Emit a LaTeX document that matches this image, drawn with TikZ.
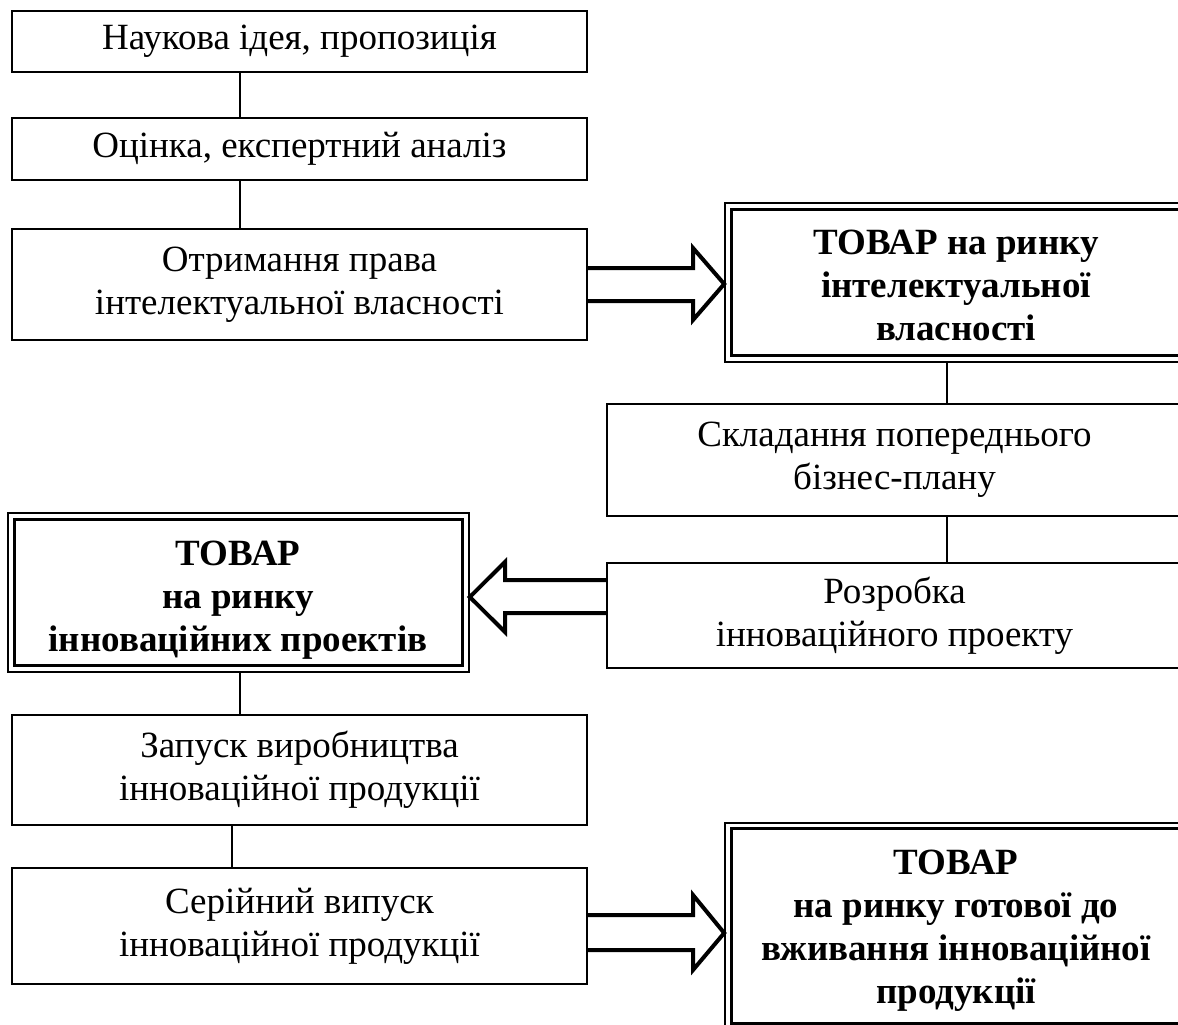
\documentclass[tikz,border=0pt]{standalone}
\usepackage{fontspec}
\setmainfont{Liberation Serif}
\usetikzlibrary{calc}
\begin{document}
\begin{tikzpicture}[x=1pt,y=-1pt,
  box/.style={draw, line width=1.5pt, align=center, inner sep=0pt,
    font=\fontsize{37}{43}\selectfont},
  dbox/.style={draw, line width=3pt, inner sep=0pt},
  btext/.style={align=center, inner sep=0pt, font=\fontsize{37}{43}\selectfont\bfseries},
  oframe/.style={draw, line width=1.6pt, inner sep=0pt},
  conn/.style={line width=1.5pt},
  bigarrow/.style={draw, line width=4pt, line join=miter}]
\useasboundingbox (0,0) rectangle (1178,1025);
\clip (0,0) rectangle (1178,1025);
\coordinate (lx) at (240,0);
\coordinate (rx) at (947,0);
\coordinate (lx2) at (232,0);
% left column
\node[box, minimum width=575pt, minimum height=61pt] (b1) at (299.5,41.5) {Наукова ідея, пропозиція};
\node[box, minimum width=575pt, minimum height=62pt] (b2) at (299.5,149) {Оцінка, експертний аналіз};
\node[box, minimum width=575pt, minimum height=111pt] (b3) at (299.5,284.5) {Отримання права\\інтелектуальної власності};
% double box 1
\node[oframe, minimum width=462pt, minimum height=159pt] (db1o) at (956,282.5) {};
\node[dbox, minimum width=450pt, minimum height=146pt] (db1) at (956,282) {};
\node[btext] (db1t) at (956,285) {ТОВАР на ринку\\інтелектуальної\\власності};
% right column
\node[box, minimum width=575pt, minimum height=112pt] (b4) at (894.5,460) {Складання попереднього\\бізнес-плану};
\node[box, minimum width=575pt, minimum height=105pt] (b5) at (894.5,615.5) {Розробка\\інноваційного проекту};
% double box 2
\node[oframe, minimum width=461pt, minimum height=159pt] (db2o) at (238.5,592.5) {};
\node[dbox, minimum width=448pt, minimum height=146pt] (db2) at (238,592) {};
\node[btext] (db2t) at (238,600) {ТОВАР\\на ринку\\інноваційних проектів};
% lower left
\node[box, minimum width=575pt, minimum height=110pt] (b6) at (299.5,770) {Запуск виробництва\\інноваційної продукції};
\node[box, minimum width=575pt, minimum height=116pt] (b7) at (299.5,926) {Серійний випуск\\інноваційної продукції};
% double box 3
\node[oframe, minimum width=462pt, minimum height=206pt] (db3o) at (956,926) {};
\node[dbox, minimum width=450pt, minimum height=195pt] (db3) at (956,925.5) {};
\node[btext] (db3t) at (956,931) {ТОВАР\\на ринку готової до\\вживання інноваційної\\продукції};
% connectors
\draw[conn] (b1.south -| lx) -- (b2.north -| lx);
\draw[conn] (b2.south -| lx) -- (b3.north -| lx);
\draw[conn] (db1o.south -| rx) -- (b4.north -| rx);
\draw[conn] (b4.south -| rx) -- (b5.north -| rx);
\draw[conn] (db2o.south -| lx) -- (b6.north -| lx);
\draw[conn] (b6.south -| lx2) -- (b7.north -| lx2);
% big arrows
\draw[bigarrow] (b3.east |- 0,268) -- (693,268) -- (693,248) -- (db1o.west |- 0,284)
  -- (693,320) -- (693,301) -- (b3.east |- 0,301);
\draw[bigarrow] (b5.west |- 0,580) -- (505,580) -- (505,562) -- (db2o.east |- 0,597)
  -- (505,632) -- (505,613) -- (b5.west |- 0,613);
\draw[bigarrow] (b7.east |- 0,915) -- (693,915) -- (693,895) -- (db3o.west |- 0,933)
  -- (693,970) -- (693,950) -- (b7.east |- 0,950);
\end{tikzpicture}
\end{document}
